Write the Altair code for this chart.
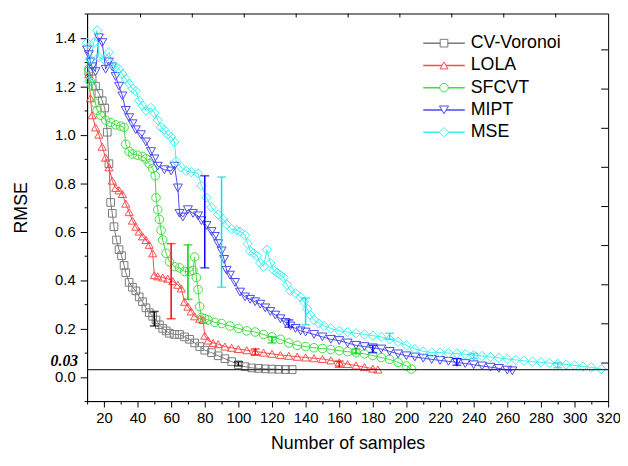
import altair as alt
import pandas as pd

SERIES = ["CV-Voronoi", "LOLA", "SFCVT", "MIPT", "MSE"]
COLORS = ["#7a7a7a", "#ff4a4a", "#3ee03e", "#4a4af0", "#3ef0f0"]
BAR_COLORS = ["#000000", "#ff0000", "#00cc00", "#0000ff", "#00e0f0"]
SHAPES = ["square", "triangle-up", "circle", "triangle-down", "diamond"]
SIZES = [60, 90, 75, 90, 105]

CV_X = [11, 13, 15, 17, 19, 20.5, 22, 23, 24, 25, 26, 27.5, 29, 30.5, 32, 33, 35, 37, 39, 41, 43, 45, 47, 49,
        51, 53, 55, 57, 59, 62, 65, 68, 71, 74, 77, 80, 84, 88, 92, 96, 100, 104, 108, 112, 116, 120, 124, 128, 132]
CV_Y = [1.26, 1.23, 1.20, 1.17, 1.14, 1.11, 1.01, 0.88, 0.72, 0.675, 0.62, 0.565, 0.525, 0.50, 0.46, 0.43,
        0.39, 0.37, 0.355, 0.33, 0.31, 0.285, 0.265, 0.25, 0.235, 0.215, 0.20, 0.19, 0.18, 0.175, 0.175, 0.165,
        0.155, 0.14, 0.125, 0.11, 0.10, 0.087, 0.075, 0.063, 0.05, 0.042, 0.037, 0.035, 0.033, 0.032, 0.031,
        0.030, 0.030]

LOLA_X = [11, 12, 13, 15, 17, 19, 21, 23, 25, 27, 29, 31, 33, 35, 37, 39, 41, 43, 45, 47, 49, 50, 52, 55, 58,
          61, 64, 66, 68, 70, 72, 74, 77, 79, 80, 82, 85, 88, 92, 96, 100, 105, 110, 115, 120, 125, 130, 135,
          140, 145, 150, 155, 160, 165, 170, 175, 180, 183]
LOLA_Y = [1.25, 1.15, 1.08, 1.03, 1.00, 0.95, 0.905, 0.865, 0.81, 0.78, 0.77, 0.755, 0.715, 0.68, 0.645, 0.62,
          0.60, 0.58, 0.565, 0.545, 0.51, 0.42, 0.415, 0.41, 0.405, 0.395, 0.38, 0.365, 0.31, 0.29, 0.27, 0.25,
          0.24, 0.235, 0.17, 0.15, 0.14, 0.135, 0.125, 0.12, 0.115, 0.11, 0.105, 0.10, 0.095, 0.09, 0.087,
          0.083, 0.08, 0.077, 0.074, 0.068, 0.06, 0.053, 0.047, 0.04, 0.034, 0.03]

SFCVT_X = [11, 12, 13, 15, 16, 18, 21, 24, 27, 30, 32, 33, 35, 37, 40, 43, 45, 47, 49, 50.5, 51, 52, 53, 54, 55,
           57, 59, 62, 65, 68, 71, 73, 74, 75, 76, 77, 78, 80, 82, 86, 90, 95, 100, 105, 110, 115, 120, 125,
           130, 135, 140, 145, 150, 155, 160, 165, 170, 175, 180, 185, 190, 195, 200, 203]
SFCVT_Y = [1.27, 1.22, 1.20, 1.13, 1.10, 1.08, 1.06, 1.05, 1.04, 1.035, 1.03, 0.96, 0.93, 0.92, 0.915, 0.91,
           0.90, 0.88, 0.86, 0.83, 0.74, 0.69, 0.65, 0.605, 0.565, 0.51, 0.475, 0.455, 0.45, 0.435, 0.435, 0.44,
           0.495, 0.41, 0.36, 0.29, 0.245, 0.24, 0.235, 0.225, 0.22, 0.21, 0.20, 0.19, 0.185, 0.175, 0.165,
           0.155, 0.14, 0.13, 0.125, 0.12, 0.117, 0.113, 0.108, 0.104, 0.10, 0.095, 0.088, 0.08, 0.072, 0.06,
           0.045, 0.032]

MIPT_X = [10, 11, 12, 13, 15, 17, 19, 21, 23, 25, 27, 29, 31, 33, 35, 37, 39, 42, 45, 48, 50, 52, 56, 60, 62,
          64, 65, 67, 70, 73, 76, 78, 81, 84, 86, 88, 90, 91.5, 93, 95, 98, 101, 104, 107, 110, 113, 116, 119,
          122, 125, 128, 131, 134, 137, 140, 145, 150, 155, 160, 165, 170, 175, 180, 185, 190, 195, 200, 205,
          210, 215, 220, 225, 230, 235, 240, 245, 250, 255, 260, 263]
MIPT_Y = [1.35, 1.33, 1.30, 1.28, 1.26, 1.40, 1.38, 1.27, 1.30, 1.28, 1.24, 1.20, 1.16, 1.10, 1.07, 1.045,
          1.02, 1.00, 0.97, 0.93, 0.90, 0.87, 0.855, 0.85, 0.87, 0.78, 0.675, 0.66, 0.69, 0.675, 0.665, 0.645,
          0.625, 0.60, 0.58, 0.55, 0.52, 0.485, 0.44, 0.42, 0.39, 0.35, 0.33, 0.32, 0.31, 0.30, 0.285, 0.27,
          0.255, 0.24, 0.225, 0.21, 0.20, 0.19, 0.185, 0.175, 0.165, 0.155, 0.15, 0.14, 0.13, 0.125, 0.12,
          0.115, 0.105, 0.095, 0.087, 0.082, 0.077, 0.072, 0.068, 0.064, 0.06, 0.055, 0.05, 0.045, 0.04,
          0.035, 0.028, 0.025]

MSE_X = [10, 11, 12, 14, 16, 17, 20, 23, 25, 27, 29, 31, 33, 35, 37, 39, 41, 43, 45, 48, 50, 52, 54, 56, 58,
         60, 62, 63, 66, 69, 72, 76, 78, 81, 84, 88, 91, 93, 96, 99, 101, 104, 105.5, 107, 109, 111, 113, 115,
         117, 119, 121, 123, 125, 127, 129, 131, 134, 137, 139, 141, 143, 145, 148, 151, 155, 160, 165, 170,
         175, 180, 185, 190, 195, 200, 205, 210, 215, 220, 225, 230, 235, 240, 245, 250, 255, 260, 265, 270,
         275, 280, 285, 290, 295, 300, 305, 310, 316]
MSE_Y = [1.38, 1.22, 1.31, 1.38, 1.43, 1.32, 1.31, 1.34, 1.29, 1.28, 1.27, 1.25, 1.23, 1.21, 1.19, 1.18, 1.14,
         1.12, 1.10, 1.11, 1.09, 1.06, 1.03, 1.02, 1.00, 0.99, 0.97, 0.89, 0.865, 0.85, 0.845, 0.84, 0.79,
         0.74, 0.70, 0.67, 0.65, 0.63, 0.61, 0.605, 0.60, 0.585, 0.55, 0.52, 0.51, 0.50, 0.47, 0.455, 0.525,
         0.47, 0.44, 0.43, 0.42, 0.41, 0.38, 0.355, 0.345, 0.33, 0.31, 0.28, 0.255, 0.235, 0.22, 0.21, 0.20,
         0.19, 0.185, 0.18, 0.175, 0.17, 0.165, 0.155, 0.145, 0.13, 0.115, 0.105, 0.10, 0.10, 0.098, 0.096,
         0.093, 0.09, 0.086, 0.082, 0.078, 0.074, 0.07, 0.066, 0.063, 0.06, 0.057, 0.054, 0.051, 0.047, 0.043,
         0.039, 0.032]

# error bars (series, sample count, low, high)
EB_SERIES = ["CV-Voronoi", "CV-Voronoi", "LOLA", "LOLA", "LOLA", "SFCVT", "SFCVT", "SFCVT",
             "MIPT", "MIPT", "MIPT", "MIPT", "MSE", "MSE", "MSE", "MSE", "MSE"]
EB_X = [50, 100, 60, 110, 160, 70, 120, 170, 80, 130, 180, 230, 90, 140, 190, 240, 290]
EB_LO = [0.21, 0.045, 0.24, 0.09, 0.04, 0.32, 0.14, 0.095, 0.45, 0.205, 0.10, 0.048, 0.37, 0.215, 0.155,
         0.075, 0.038]
EB_HI = [0.27, 0.062, 0.55, 0.115, 0.065, 0.545, 0.165, 0.115, 0.83, 0.235, 0.13, 0.075, 0.825, 0.325, 0.18,
         0.097, 0.058]

X_TICKS = [10, 20, 30, 40, 50, 60, 70, 80, 90, 100, 110, 120, 130, 140, 150, 160, 170, 180, 190, 200, 210,
           220, 230, 240, 250, 260, 270, 280, 290, 300, 310, 320]
Y_TICKS = [-0.1, 0.0, 0.1, 0.2, 0.3, 0.4, 0.5, 0.6, 0.7, 0.8, 0.9, 1.0, 1.1, 1.2, 1.3, 1.4, 1.5]
TOP_TICKS = [41.8, 72.6, 103.5, 134.4, 165.3, 196.1, 227.0, 257.9, 288.8]
RIGHT_TICKS = [0.057, 0.219, 0.38, 0.542, 0.703, 0.865, 1.026, 1.188, 1.35]
REF_LEVEL = [0.03]

W, H = 527, 392
FONT = "Liberation Sans"

rows = []
for name, xs, ys in zip(SERIES, [CV_X, LOLA_X, SFCVT_X, MIPT_X, MSE_X], [CV_Y, LOLA_Y, SFCVT_Y, MIPT_Y, MSE_Y]):
    for xv, yv in zip(xs, ys):
        rows.append({"series": name, "n": xv, "rmse": yv})
df = pd.DataFrame(rows)
eb = pd.DataFrame({"series": EB_SERIES, "n": EB_X, "lo": EB_LO, "hi": EB_HI})
leg = pd.DataFrame({"series": SERIES, "row": list(range(len(SERIES)))})

xscale = alt.Scale(domain=[10, 320], nice=False, zero=False)
yscale = alt.Scale(domain=[-0.1, 1.5], nice=False, zero=False)
xaxis = alt.Axis(values=X_TICKS, title="Number of samples", labelExpr="datum.value % 20 == 0 ? datum.label : ''",
                 tickSize={"condition": {"test": "datum.value % 20 == 0", "value": 6}, "value": 3},
                 labelPadding=4, titlePadding=9, labelOverlap=False, labelFlush=False)
yaxis = alt.Axis(values=Y_TICKS, title="RMSE",
                 labelExpr="(abs(round(datum.value*10)) % 2 == 0 && datum.value > -0.05 && datum.value < 1.45) ? format(datum.value, '.1f') : ''",
                 tickSize={"condition": {"test": "abs(round(datum.value*10)) % 2 == 0", "value": 7}, "value": 3},
                 labelPadding=5, titlePadding=24, labelOverlap=False, labelFlush=False)

X = alt.X("n:Q", scale=xscale, axis=xaxis)
Y = alt.Y("rmse:Q", scale=yscale, axis=yaxis)
color = alt.Color("series:N", scale=alt.Scale(domain=SERIES, range=COLORS), legend=None)
shape = alt.Shape("series:N", scale=alt.Scale(domain=SERIES, range=SHAPES), legend=None)
size = alt.Size("series:N", scale=alt.Scale(domain=SERIES, range=SIZES), legend=None)

base = alt.Chart(df)
lines = base.mark_line(strokeWidth=1).encode(x=X, y=Y, color=color, detail="series:N")
points = base.mark_point(filled=False, strokeWidth=1, opacity=1).encode(x=X, y=Y, color=color, shape=shape, size=size)

ebase = alt.Chart(eb)
bar_stroke = alt.Stroke("series:N", scale=alt.Scale(domain=SERIES, range=BAR_COLORS), legend=None)
bar_fill = alt.Fill("series:N", scale=alt.Scale(domain=SERIES, range=BAR_COLORS), legend=None)
eb_rules = ebase.mark_rule(strokeWidth=1.5).encode(x=X, y=alt.Y("lo:Q", scale=yscale, axis=yaxis), y2="hi:Q", stroke=bar_stroke)
eb_lo = ebase.mark_tick(orient="horizontal", size=9, thickness=1.5).encode(x=X, y=alt.Y("lo:Q", scale=yscale, axis=yaxis), fill=bar_fill)
eb_hi = ebase.mark_tick(orient="horizontal", size=9, thickness=1.5).encode(x=X, y=alt.Y("hi:Q", scale=yscale, axis=yaxis), fill=bar_fill)

ref = pd.DataFrame({"rmse": REF_LEVEL})
ref_rule = alt.Chart(ref).mark_rule(color="#333333", strokeWidth=1.2).encode(y=Y)
ref_text = alt.Chart(ref).mark_text(align="right", baseline="alphabetic", dy=-4, font="Liberation Serif",
                                    fontStyle="italic", fontWeight="bold", fontSize=16, color="black").encode(
    y=Y, x=alt.value(-9), text=alt.Text("rmse:Q", format=".2f"))

top_df = pd.DataFrame({"n": TOP_TICKS})
top_ticks = alt.Chart(top_df).mark_rule(color="black", strokeWidth=1).encode(x=X, y=alt.value(0), y2=alt.value(4))
right_df = pd.DataFrame({"rmse": RIGHT_TICKS})
right_ticks = alt.Chart(right_df).mark_rule(color="black", strokeWidth=1).encode(y=Y, x=alt.value(W - 7), x2=alt.value(W))

main = alt.layer(lines, points, eb_rules, eb_lo, eb_hi, ref_rule, ref_text, top_ticks, right_ticks)

LY = alt.Y("row:Q", scale=alt.Scale(domain=[0, 4], range=[30, 120]), axis=None)
lbase = alt.Chart(leg)
leg_line = lbase.mark_rule(strokeWidth=1.5).encode(x=alt.value(340), x2=alt.value(382), y=LY, color=color)
leg_pt = lbase.mark_point(filled=False, fill="white", fillOpacity=1, strokeWidth=1, opacity=1).encode(
    x=alt.value(361), y=LY, color=color, shape=shape, size=size)
leg_txt = lbase.mark_text(align="left", baseline="middle", font=FONT, fontSize=18, color="black").encode(
    x=alt.value(388), y=LY, text="series:N")
legend = alt.layer(leg_line, leg_pt, leg_txt)

chart = alt.layer(main, legend).resolve_scale(y="independent").properties(
    width=W, height=H,
    autosize=alt.AutoSizeParams(type="none"),
    padding={"left": 80, "top": 3, "right": 12, "bottom": 55},
    background="white",
).configure_view(stroke="black", strokeWidth=1).configure_axis(
    labelFont=FONT, titleFont=FONT, labelFontSize=15, titleFontSize=18, titleFontWeight="normal",
    labelColor="black", titleColor="black", domainColor="black", tickColor="black", grid=False,
    domainWidth=1, tickWidth=1)

chart.save("out.html", embed_options={"renderer": "svg", "actions": False})
